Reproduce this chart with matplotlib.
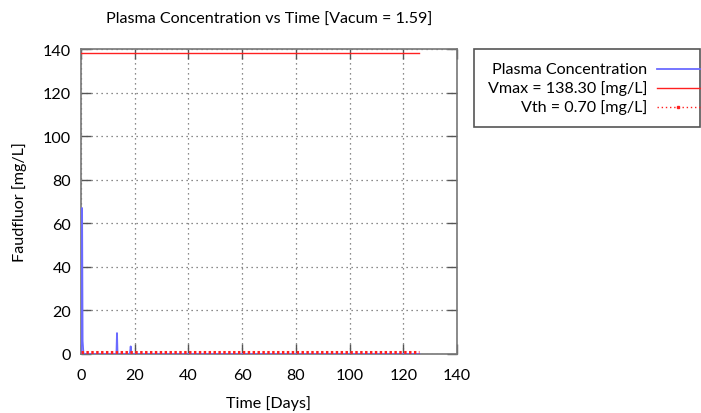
import matplotlib
matplotlib.use("Agg")
import matplotlib.pyplot as plt
from matplotlib.lines import Line2D
from matplotlib.patches import Rectangle

plt.rcParams['font.family'] = ['Lato', 'DejaVu Sans']

# Plasma concentration time course (days, mg/L)
time_days = [0.0, 0.4, 0.6, 0.9, 1.5, 13.2, 13.4, 13.6, 18.2, 18.5, 18.8, 126.0]
plasma_conc = [0.0, 67.0, 6.0, 0.3, 0.0, 0.0, 9.6, 0.0, 0.0, 3.5, 0.0, 0.0]

vmax = 138.30
vth = 0.70
t_end = 126.0

x_ticks = [0, 20, 40, 60, 80, 100, 120, 140]
y_ticks = [0, 20, 40, 60, 80, 100, 120, 140]

title = "Plasma Concentration vs Time [Vacum = 1.59]"
xlabel = "Time [Days]"
ylabel = "Faudfluor [mg/L]"
legend_labels = ["Plasma Concentration",
                 f"Vmax = {vmax:.2f} [mg/L]",
                 f"Vth = {vth:.2f} [mg/L]"]

W, H = 701, 414
fig = plt.figure(figsize=(W / 100, H / 100), dpi=100)
ax = fig.add_axes([81 / W, 1 - 355 / H, (457 - 81) / W, (355 - 50) / H])

blue = "#6a6aff"
red = "#ff2020"

ax.plot(time_days, plasma_conc, color=blue, lw=1.3, zorder=3)
ax.plot([0, t_end], [vmax, vmax], color=red, lw=1.0, zorder=3)
ax.plot([0, t_end], [vth, vth], color=red, lw=2.2, ls=(0, (0.8, 0.8)), zorder=4)

ax.set_xlim(0, 140)
ax.set_ylim(0, 140)
ax.set_xticks(x_ticks)
ax.set_yticks(y_ticks)

ax.grid(True, color="#666666", lw=0.9, ls=(0, (1, 3)))
fs = 11.6
ax.tick_params(direction="in", length=7, width=1, color="#555555",
               top=True, right=True, labelsize=fs)
ax.tick_params(axis="x", pad=10)
ax.tick_params(axis="y", pad=7)
for sp in ax.spines.values():
    sp.set_color("#777777")
    sp.set_linewidth(1.2)

fig.text(269 / W, 1 - 20 / H, title, ha="center", va="center", fontsize=fs)
fig.text(269 / W, 1 - 404 / H, xlabel, ha="center", va="center", fontsize=fs)
fig.text(20 / W, 1 - 202 / H, ylabel, ha="center", va="center",
         rotation=90, fontsize=fs)

# Legend box with right-aligned labels and samples on the right
fig.patches.append(Rectangle((474 / W, 1 - 128 / H), (700 - 474) / W, (128 - 50) / H,
                             transform=fig.transFigure, fill=False,
                             edgecolor="#555555", lw=1.2))
rows = [70, 89, 108]
styles = [dict(color=blue, lw=1.3),
          dict(color=red, lw=1.0),
          dict(color=red, lw=1.0, ls=(0, (1, 2)))]
for lab, yy, st in zip(legend_labels, rows, styles):
    fig.text(647 / W, 1 - yy / H, lab, ha="right", va="center", fontsize=fs)
    fig.lines.append(Line2D([657 / W, 700 / W], [1 - yy / H, 1 - yy / H],
                            transform=fig.transFigure, **st))
fig.lines.append(Line2D([678 / W], [1 - 108 / H], transform=fig.transFigure,
                        marker="s", ms=2, color=red, lw=0))

fig.savefig("out.png", dpi=100)
